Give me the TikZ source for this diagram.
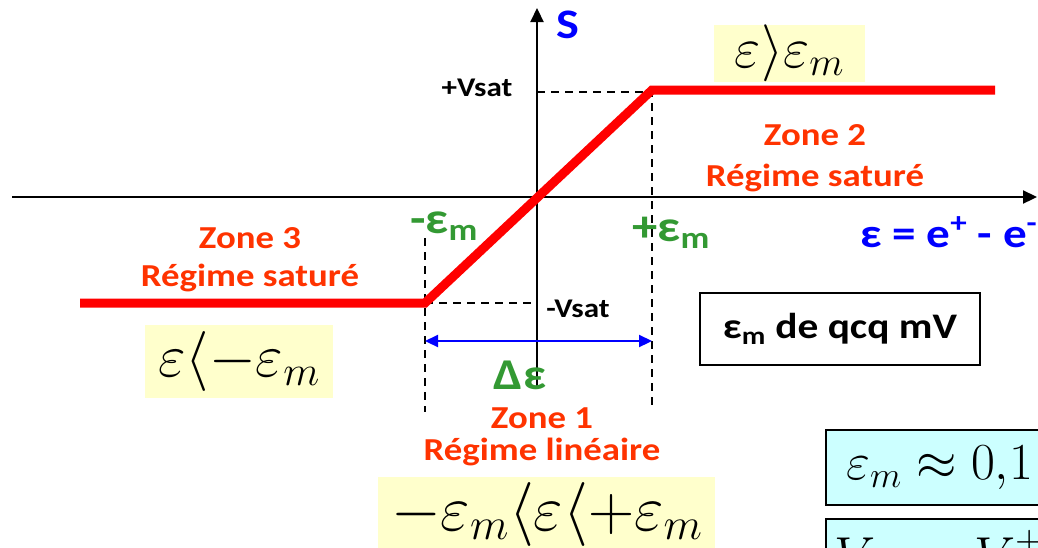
\RequirePackage{fix-cm}
\documentclass[tikz,border=0pt]{standalone}
\usepackage{fontspec}
\setmainfont[FakeStretch=1.15]{Carlito}
\usetikzlibrary{arrows.meta}
\definecolor{zone}{HTML}{FF3300}
\definecolor{grn}{HTML}{339933}
\definecolor{blu}{HTML}{0000FF}
\definecolor{ylw}{HTML}{FFFFCC}
\definecolor{cyn}{HTML}{CCFFFF}
\begin{document}
\begin{tikzpicture}[x=1pt,y=-1pt,
  zonetxt/.style={text=zone,font=\bfseries\fontsize{32}{38}\selectfont,align=center,inner sep=0pt},
  vsat/.style={font=\bfseries\fontsize{27}{30}\selectfont,inner sep=0pt},
  grnlbl/.style={text=grn,font=\bfseries\fontsize{44}{48}\selectfont,inner sep=0pt},
  axisline/.style={line width=2.2pt,draw=black},
  guide/.style={line width=1.3pt,dash pattern=on 8pt off 6pt},
  curve/.style={line width=9pt,draw=red,line join=miter},
  ybox/.style={fill=ylw,draw=none,inner sep=0pt},
  cbox/.style={fill=cyn,draw=black,line width=2pt},
  wbox/.style={fill=white,draw=black,line width=2pt,font=\bfseries\fontsize{36}{40}\selectfont,minimum width=280pt,minimum height=72pt,inner sep=0pt}
]
\useasboundingbox (0,0) rectangle (1038,547);
\clip (0,0) rectangle (1038,547);
% axes
\coordinate (xl) at (12,197);
\coordinate (xr) at (1037,197);
\coordinate (yb) at (537,388);
\coordinate (yt) at (537,8);
\draw[axisline,-{Triangle[length=14pt,width=13pt]}] (xl) -- (xr);
\draw[axisline,-{Triangle[length=14pt,width=13pt]}] (yb) -- (yt);
% key points
\coordinate (c0) at (80,303);
\coordinate (c1) at (425,303);
\coordinate (c2) at (652,90);
\coordinate (c3) at (995,90);
\coordinate (ps) at (537,92);
\coordinate (ns) at (537,303);
\coordinate (pb) at (652,410);
\coordinate (nt) at (425,238);
\coordinate (nb) at (425,412);
% guides
\draw[guide] (ps) -- (c2 |- ps) -- (pb);
\draw[guide] (c1) -- (ns);
\draw[guide] (nt) -- (nb);
% curve
\draw[curve] (c0) -- (c1) -- (c2) -- (c3);
% delta arrow
\coordinate (da) at (425,341);
\coordinate (db) at (652,341);
\draw[blu,line width=2.2pt,{Triangle[length=13pt,width=12pt]}-{Triangle[length=13pt,width=12pt]}] (da) -- (db);
% labels
\node[text=blu,font=\bfseries\fontsize{42}{46}\selectfont,inner sep=0pt] (S) at (568,25) {S};
\node[vsat] (pv) at (477,88) {+Vsat};
\node[vsat] (nv) at (578,309) {-Vsat};
\node[grnlbl] (me) at (444,226) {-ε\textsubscript{m}};
\node[grnlbl] (pe) at (671,233) {+ε\textsubscript{m}};
\node[grnlbl] (de) at (520,375) {Δε};
\node[text=blu,font=\bfseries\fontsize{41}{44}\selectfont,inner sep=0pt,anchor=west] (eq) at (860,232) {ε = e\textsuperscript{+} - e\textsuperscript{-}};
\node[zonetxt,font=\bfseries\fontsize{32}{41}\selectfont] (z2) at (815,158) {Zone 2\\Régime saturé};
\node[zonetxt,font=\bfseries\fontsize{32}{38}\selectfont] (z3) at (250,260) {Zone 3\\Régime saturé};
\node[zonetxt,font=\bfseries\fontsize{32}{32}\selectfont] (z1) at (542,437) {Zone 1\\Régime linéaire};
% yellow boxes
\node[ybox,minimum width=151pt,minimum height=54pt,font=\fontsize{57}{60}\selectfont] (y2) at (789.5,53) {$\varepsilon\rangle\varepsilon_m$};
\node[ybox,minimum width=188pt,minimum height=73pt,font=\fontsize{60}{64}\selectfont] (y3) at (239,361.5) {$\varepsilon\langle-\varepsilon_m$};
\node[ybox,minimum width=337pt,minimum height=74pt,anchor=north west,font=\fontsize{64}{68}\selectfont] (y1) at (378,477) {$-\varepsilon_m\langle\varepsilon\langle+\varepsilon_m$};
% white box
\node[wbox] (wb) at (840,329) {ε\textsubscript{m} de qcq mV};
% cyan boxes
\coordinate (cb1a) at (826,430);
\coordinate (cb1b) at (1050,505);
\draw[cbox] (cb1a) rectangle (cb1b);
\node[anchor=west,inner sep=0pt,font=\fontsize{52}{60}\selectfont] (cb1t) at (846,468) {$\varepsilon_m\approx 0{,}1$};
\coordinate (cb2a) at (826,519);
\coordinate (cb2b) at (1050,600);
\draw[cbox] (cb2a) rectangle (cb2b);
\node[anchor=north west,inner sep=0pt,font=\fontsize{52}{60}\selectfont] (cb2t) at (834,533) {$V_{\mathrm{sat}} = V^{\pm}\mp 1$};
\end{tikzpicture}
\end{document}
